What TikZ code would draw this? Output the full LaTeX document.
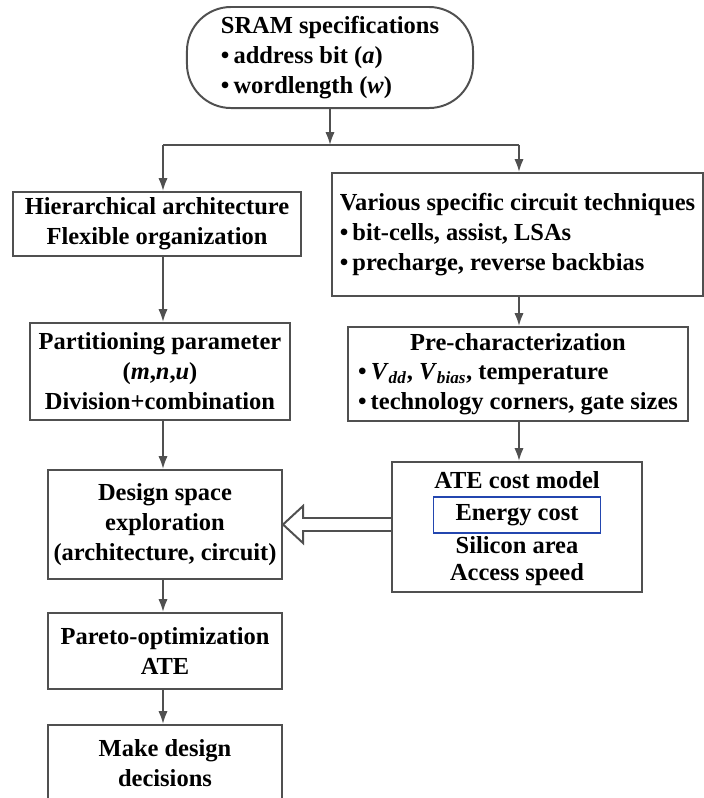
\documentclass[tikz,border=0pt]{standalone}
\usepackage{fontspec}
\setmainfont{Liberation Serif}
\usepackage{tikz}
\usetikzlibrary{arrows.meta,calc,positioning}
\definecolor{boxgray}{RGB}{80,80,80}
\definecolor{energyblue}{RGB}{35,70,175}
\tikzset{
    node distance=0.75cm, % spacing of the lines inside the cost model box
    }

\begin{document}
\begin{tikzpicture}[x=0.025cm, y=-0.025cm,
txt/.style={font=\fontsize{17.4}{21.3}\selectfont\bfseries, inner sep=0pt},
box/.style={txt, draw=boxgray, line width=1.4pt, align=center},
arr/.style={draw=boxgray, line width=1.4pt, -{Latex[length=3.2mm,width=2.3mm]}},
conn/.style={draw=boxgray, line width=1.4pt},
]
\useasboundingbox (0,0) rectangle (704,798);
\clip (0,0) rectangle (704,798);

\node[box, rounded corners=1.1cm, minimum width=7.15cm, minimum height=2.525cm, align=left] (spec) at (330,57.5)
  {SRAM specifications\\ \textbullet\,address bit (\textit{a})\\ \textbullet\,wordlength (\textit{w})};

\node[box, minimum width=7.2cm, minimum height=1.6cm] (hier) at (157,224)
  {Hierarchical architecture\\ Flexible organization};
\node[box, minimum width=9.275cm, minimum height=3.075cm, align=left] (var) at (517.5,234.5)
  {Various specific circuit techniques\\ \textbullet\,bit-cells, assist, LSAs\\ \textbullet\,precharge, reverse backbias};

\node[box, minimum width=6.5cm, minimum height=2.425cm] (part) at (160,371.5)
  {Partitioning parameter\\ (\textit{m},\textit{n},\textit{u})\\ Division+combination};
\node[box, minimum width=8.5cm, minimum height=2.35cm] (prechar) at (518,374)
  {\begin{tabular}{@{}l@{}}\multicolumn{1}{@{}c@{}}{Pre-characterization}\\
   \textbullet\,\textit{V}\textsubscript{\textit{dd}}, \textit{V}\textsubscript{\textit{bias}}, temperature\\
   \textbullet\,technology corners, gate sizes\end{tabular}};

% cost model box and its lines
\node[box, minimum width=6.25cm, minimum height=3.25cm] (ate) at (517,527) {};
\node[txt] (atetitle) at (517,480) {ATE cost model};
\node[txt, draw=energyblue, line width=1.2pt, minimum width=4.175cm, minimum height=0.9cm] (energy) [below of=atetitle, node distance=0.875cm] {Energy cost};
\node[txt] (silicon) [below of=energy] {Silicon area};
\node[txt] (access) [below of=silicon] {Access speed};

\node[box, minimum width=5.85cm, minimum height=2.725cm] (dse) at (165,524.5)
  {Design space\\ exploration\\ (architecture, circuit)};
\node[box, minimum width=5.85cm, minimum height=1.9cm] (pareto) at (165,651)
  {Pareto-optimization\\ ATE};
\node[box, minimum width=5.85cm, minimum height=1.9cm] (make) at (165,763)
  {Make design\\ decisions};

\coordinate (jl) at (163,145);
\coordinate (jr) at (519,145);

\draw[arr] (spec.south) -- (spec.south |- jl);
\draw[conn] (jl) -- (jr);
\draw[arr] (jl) -- (jl |- hier.north);
\draw[arr] (jr) -- (jr |- var.north);
\draw[arr] (hier.south -| jl) -- (part.north -| jl);
\draw[arr] (part.south -| jl) -- (dse.north -| jl);
\draw[arr] (dse.south -| jl) -- (pareto.north -| jl);
\draw[arr] (pareto.south -| jl) -- (make.north -| jl);
\draw[arr] (var.south -| jr) -- (prechar.north -| jr);
\draw[arr] (prechar.south -| jr) -- (ate.north -| jr);

% hollow arrow from the cost model to the exploration
\draw[conn, fill=white] ($(ate.west |- dse.east)+(0,-6.5)$) -- ($(dse.east)+(20,-6.5)$)
  -- ($(dse.east)+(20,-18.5)$) -- (dse.east) -- ($(dse.east)+(20,18.5)$)
  -- ($(dse.east)+(20,6.5)$) -- ($(ate.west |- dse.east)+(0,6.5)$);
\end{tikzpicture}
\end{document}
